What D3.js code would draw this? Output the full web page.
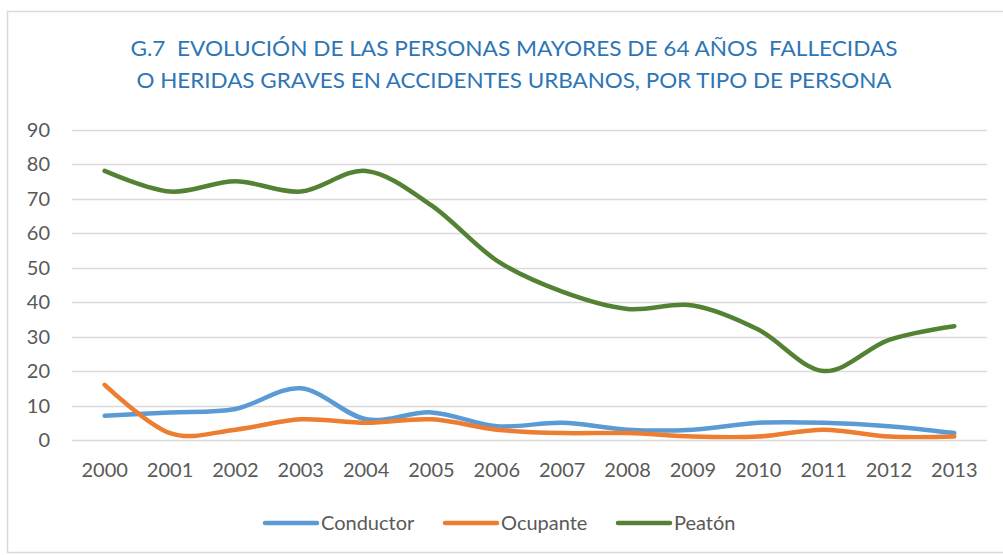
<!DOCTYPE html>
<html>
<head>
<meta charset="utf-8">
<script src="https://cdn.jsdelivr.net/npm/d3@7"></script>
<style>
  body { margin: 0; background: #fff; }
  text { font-family: Lato, "Open Sans", sans-serif; }
  .title { white-space: pre; }
</style>
</head>
<body>
<div id="chart"></div>
<script>
var years = ["2000","2001","2002","2003","2004","2005","2006","2007","2008","2009","2010","2011","2012","2013"];
var conductor = [7, 8, 9, 15, 6, 8, 4, 5, 3, 3, 5, 5, 4, 2];
var ocupante  = [16, 2, 3, 6, 5, 6, 3, 2, 2, 1, 1, 3, 1, 1];
var peaton    = [78, 72, 75, 72, 78, 68, 52, 43, 38, 39, 32, 20, 29, 33];
var seriesNames = ["Conductor", "Ocupante", "Peatón"];
var yTicks = [0, 10, 20, 30, 40, 50, 60, 70, 80, 90];
var titleLines = ["G.7  EVOLUCIÓN DE LAS PERSONAS MAYORES DE 64 AÑOS  FALLECIDAS",
                  "O HERIDAS GRAVES EN ACCIDENTES URBANOS, POR TIPO DE PERSONA"];

var width = 1003, height = 555;
var colors = ["#5B9BD5", "#ED7D31", "#548235"];
var margin = {left: 72, right: 16, top: 129.5, bottom: 115};

var svg = d3.select("#chart").append("svg")
  .attr("width", width)
  .attr("height", height);

// chart frame
svg.append("rect")
  .attr("x", 7.5).attr("y", 11.5)
  .attr("width", 1010).attr("height", 541)
  .attr("fill", "none")
  .attr("stroke", "#d9d9d9")
  .attr("stroke-width", 1.5);

// title
svg.append("g").selectAll("text")
  .data(titleLines)
  .enter().append("text")
  .attr("class", "title")
  .attr("x", 514)
  .attr("y", function(d, i){ return 56 + i * 32; })
  .attr("text-anchor", "middle")
  .attr("fill", "#2E75B6")
  .attr("font-size", 21)
  .attr("textLength", function(d, i){ return i == 0 ? 767 : 755; })
  .attr("lengthAdjust", "spacingAndGlyphs")
  .text(function(d){ return d; });

var x = d3.scaleBand()
  .domain(years)
  .range([margin.left, width - margin.right]);

var y = d3.scaleLinear()
  .domain([0, 90])
  .range([height - margin.bottom, margin.top]);

// gridlines
svg.append("g").selectAll("line")
  .data(yTicks)
  .enter().append("line")
  .attr("x1", margin.left).attr("x2", width - margin.right)
  .attr("y1", function(d){ return Math.round(y(d)) + 0.5; })
  .attr("y2", function(d){ return Math.round(y(d)) + 0.5; })
  .attr("stroke", "#d9d9d9")
  .attr("stroke-width", 1.5);

// y labels
svg.append("g").selectAll("text")
  .data(yTicks)
  .enter().append("text")
  .attr("x", 50)
  .attr("y", function(d){ return y(d) + 7; })
  .attr("text-anchor", "end")
  .attr("fill", "#595959")
  .attr("font-size", 20)
  .text(function(d){ return d; });

// x labels
svg.append("g").selectAll("text")
  .data(years)
  .enter().append("text")
  .attr("x", function(d){ return x(d) + x.bandwidth() / 2; })
  .attr("y", 477)
  .attr("text-anchor", "middle")
  .attr("fill", "#595959")
  .attr("font-size", 20)
  .text(function(d){ return d; });

var allSeries = [conductor, ocupante, peaton];

var line = d3.line()
  .x(function(d, i){ return x(years[i]) + x.bandwidth() / 2; })
  .y(function(d){ return y(d); })
  .curve(d3.curveCatmullRom.alpha(0));

svg.append("g").selectAll("path")
  .data(allSeries)
  .enter().append("path")
  .attr("d", line)
  .attr("fill", "none")
  .attr("stroke", function(d, i){ return colors[i]; })
  .attr("stroke-width", 4.5)
  .attr("stroke-linecap", "round")
  .attr("stroke-linejoin", "round");

// legend
var legendX = [265, 445, 618];
var legend = svg.append("g").selectAll("g")
  .data(seriesNames)
  .enter().append("g")
  .attr("transform", function(d, i){ return "translate(" + legendX[i] + ",523)"; });
legend.append("line")
  .attr("x1", 0).attr("x2", 52)
  .attr("stroke", function(d, i){ return colors[i]; })
  .attr("stroke-width", 4.5)
  .attr("stroke-linecap", "round");
legend.append("text")
  .attr("x", 56)
  .attr("y", 7)
  .attr("fill", "#595959")
  .attr("font-size", 20)
  .text(function(d){ return d; });
</script>
</body>
</html>
